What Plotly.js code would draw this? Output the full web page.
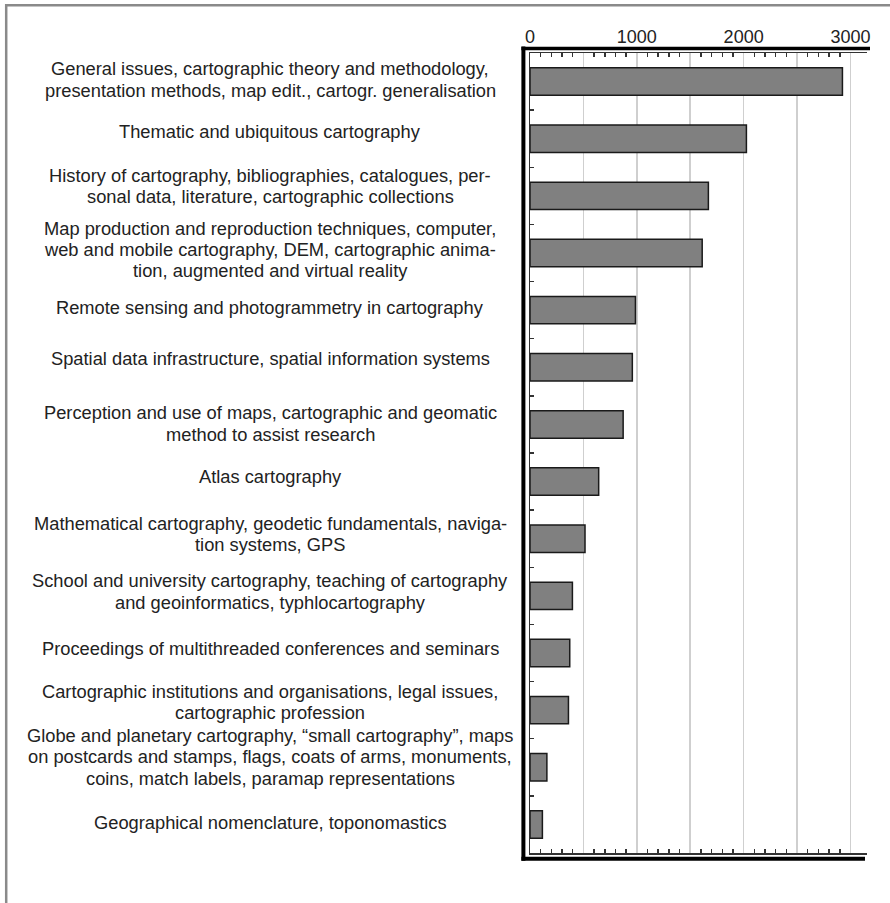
<!DOCTYPE html>
<html><head><meta charset="utf-8">
<script src="https://cdn.plot.ly/plotly-3.0.1.min.js"></script>
<style>html,body{margin:0;padding:0;background:#fff}#chart{width:890px;height:903px}</style>
</head><body><div id="chart"></div>
<script>
const categories = [
 "General issues, cartographic theory and methodology,\npresentation methods, map edit., cartogr. generalisation",
 "Thematic and ubiquitous cartography",
 "History of cartography, bibliographies, catalogues, per-\nsonal data, literature, cartographic collections",
 "Map production and reproduction techniques, computer,\nweb and mobile cartography, DEM, cartographic anima-\ntion, augmented and virtual reality",
 "Remote sensing and photogrammetry in cartography",
 "Spatial data infrastructure, spatial information systems",
 "Perception and use of maps, cartographic and geomatic\nmethod to assist research",
 "Atlas cartography",
 "Mathematical cartography, geodetic fundamentals, naviga-\ntion systems, GPS",
 "School and university cartography, teaching of cartography\nand geoinformatics, typhlocartography",
 "Proceedings of multithreaded conferences and seminars",
 "Cartographic institutions and organisations, legal issues,\ncartographic profession",
 "Globe and planetary cartography, \u201csmall cartography\u201d, maps\non postcards and stamps, flags, coats of arms, monuments,\ncoins, match labels, paramap representations",
 "Geographical nomenclature, toponomastics"
];
const counts = [2925, 2026, 1670, 1612, 987, 958, 872, 643, 515, 397, 372, 360, 158, 116];
const xTickValues = [0, 500, 1000, 1500, 2000, 2500, 3000];
const xTickLabels = ["0", "", "1000", "", "2000", "", "3000"];

// layout geometry
const W = 890, H = 903;
const M = {l: 530, r: 23, t: 53, b: 50};
const pw = W - M.l - M.r, ph = H - M.t - M.b;
const px = v => (v - M.l) / pw;
const py = v => 1 - (v - M.t) / ph;

const minorVals = [];
for (let v = 100; v < 3000; v += 100) if (v % 500 !== 0) minorVals.push(v);

// small per-label vertical nudges (px, positive = down), layout only
const labelNudge = [4, -1, -4, 2.5, 3, -3, 5, 1, 1.5, 1.5, 1, -2, -4.5, 4];
const labelFont = {family: "Liberation Sans, Arial, sans-serif", size: 18.3, color: "#222"};
const lineH = 21.3;
const annotations = [];
categories.forEach((cat, i) => {
  const lines = cat.split("\n");
  const n = lines.length;
  lines.forEach((ln, j) => {
    annotations.push({
      xref: "paper", yref: "y", x: px(270), y: cat, text: ln,
      showarrow: false, xanchor: "center", yanchor: "middle",
      yshift: 6 - labelNudge[i] + ((n - 1) / 2 - j) * lineH, font: labelFont
    });
  });
});

const line = (x0, y0, x1, y1, color, width) => ({
  type: "line", xref: "paper", yref: "paper",
  x0: px(x0), y0: py(y0), x1: px(x1), y1: py(y1),
  line: {color: color, width: width}, layer: "above"
});

const shapes = [
  line(523.4, 46.5, 523.4, 860.8, "#000", 4),
  line(521.4, 48.4, 870, 48.4, "#000", 3.5),
  line(521.4, 858.7, 865, 858.7, "#000", 4),
  line(6.2, 4, 6.2, 910, "#8a8a8a", 2.5),
  line(5, 5.3, 900, 5.3, "#8a8a8a", 2.5)
];

const trace = {
  type: "bar", orientation: "h", x: counts, y: categories, width: 0.48,
  marker: {color: "#808080", line: {color: "#1a1a1a", width: 1.5}},
  hoverinfo: "skip"
};

const layout = {
  width: W, height: H, margin: {l: M.l, r: M.r, t: M.t, b: M.b, pad: 0},
  paper_bgcolor: "#fff", plot_bgcolor: "#fff", showlegend: false,
  xaxis: {
    side: "top", range: [0, 3155], tickmode: "array", tickvals: xTickValues, ticktext: xTickLabels,
    ticks: "", showgrid: true, gridcolor: "#cfcfcf", gridwidth: 1.5, zeroline: false,
    showline: true, linecolor: "#333", linewidth: 1.5, mirror: "allticks",
    minor: {tickmode: "array", tickvals: minorVals, ticks: "inside", ticklen: 4, tickwidth: 1.5, tickcolor: "#333", showgrid: false},
    tickfont: {family: "Liberation Sans, Arial, sans-serif", size: 18, color: "#222"},
    ticklabelstandoff: 1, fixedrange: true
  },
  yaxis: {
    type: "category", range: [13.5, -0.5], showticklabels: false, ticks: "inside", tickson: "boundaries",
    ticklen: 3.5, tickwidth: 1.5, tickcolor: "#333", showline: true, linecolor: "#333", linewidth: 1.5,
    showgrid: false, zeroline: false, fixedrange: true
  },
  annotations: annotations,
  shapes: shapes
};

Plotly.newPlot("chart", [trace], layout, {displayModeBar: false, staticPlot: true});
</script>
</body></html>
